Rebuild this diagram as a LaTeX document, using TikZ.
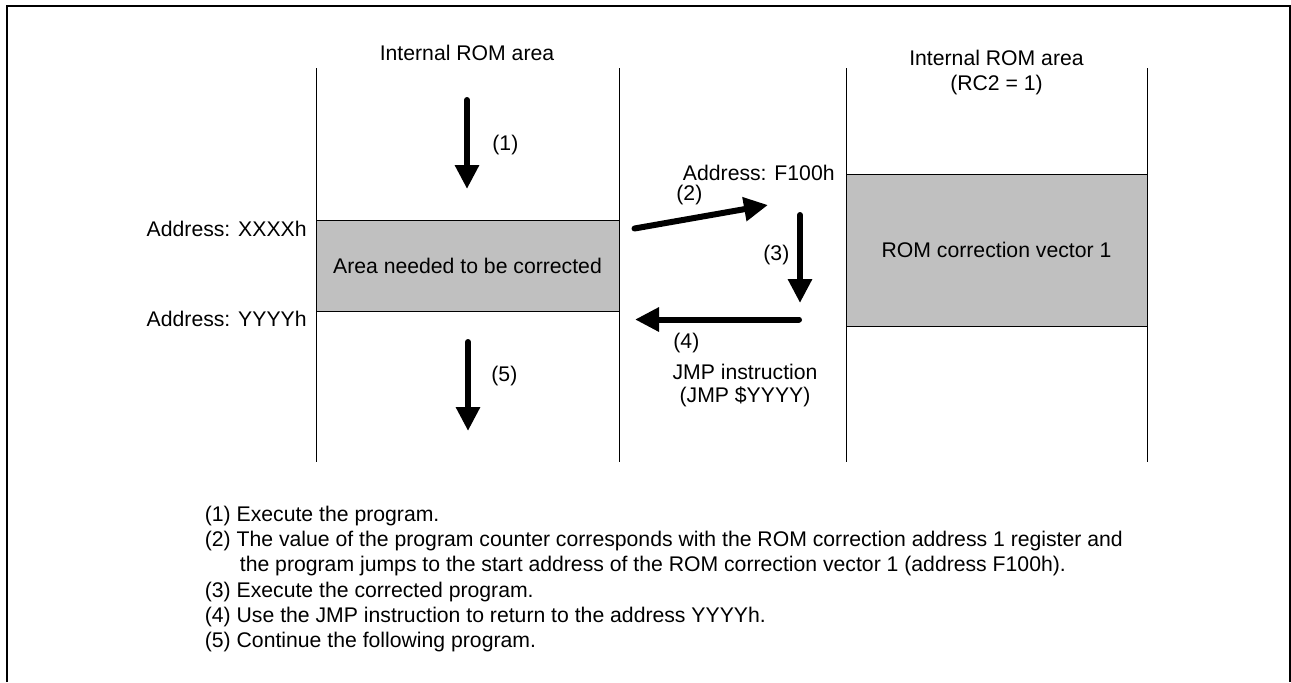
\documentclass[tikz,border=0pt]{standalone}
\usepackage{fontspec}
\setmainfont{Liberation Sans}
\usetikzlibrary{arrows.meta}
\definecolor{areagray}{RGB}{192,192,192}
\begin{document}
\begin{tikzpicture}[x=0.5pt,y=-0.5pt,
  lbl/.style={inner sep=0pt, font=\fontsize{10.6pt}{12.6pt}\selectfont},
  note/.style={inner sep=0pt, anchor=base west, font=\fontsize{10.6pt}{12.6pt}\selectfont},
  colline/.style={line width=0.5pt},
  graybox/.style={draw, line width=0.5pt, fill=areagray, inner sep=0pt,
    font=\fontsize{10.6pt}{12.6pt}\selectfont},
  flow/.style={line width=3pt, line cap=round, -{Triangle[width=11.5pt,length=12pt]}},
  frameline/.style={line width=1pt}]
\useasboundingbox (0,0) rectangle (1291,682);

% outer frame (open at the bottom)
\draw[frameline] (7,682) -- (7,6) -- (1290,6) -- (1290,682);

% memory columns
\draw[colline] (316,68) -- (316,462);
\draw[colline] (619,68) -- (619,462);
\draw[colline] (846,68) -- (846,462);
\draw[colline] (1147,68) -- (1147,462);

% shaded regions
\node[graybox, minimum width=151.5pt, minimum height=45.5pt] (fixarea) at (467.5,265.5) {Area needed to be corrected};
\node[graybox, minimum width=150.5pt, minimum height=76pt] (vector) at (996.5,250) {ROM correction vector 1};

% column headings
\node[lbl, anchor=base] (romA) at (467,60.5) {Internal ROM area};
\node[lbl, anchor=base] (romB) at (996.5,65.5) {Internal ROM area};
\node[lbl, anchor=base] (rc2) at (996.5,90.5) {(RC2 = 1)};

% addresses
\node[lbl, anchor=base east] (addrX) at (307,236.5) {Address: XXXXh};
\node[lbl, anchor=base east] (addrY) at (307,326.5) {Address: YYYYh};
\node[lbl, anchor=base east] (addrF) at (835,180) {Address: F100h};

% step labels
\node[lbl, anchor=base west] (s1) at (492,150.6) {(1)};
\node[lbl, anchor=base west] (s2) at (676,200.6) {(2)};
\node[lbl, anchor=base west] (s3) at (763,260.6) {(3)};
\node[lbl, anchor=base west] (s4) at (673,348.6) {(4)};
\node[lbl, anchor=base west] (s5) at (491,381.6) {(5)};
\node[lbl, anchor=base] (jmp1) at (745,379) {JMP instruction};
\node[lbl, anchor=base] (jmp2) at (745,402.6) {(JMP \$YYYY)};

% flow arrows
\coordinate (a1s) at (467,100);   \coordinate (a1e) at (467,189);
\coordinate (a2s) at (634.5,228.5); \coordinate (a2e) at (768,205);
\coordinate (a3s) at (800,215);   \coordinate (a3e) at (800,303);
\coordinate (a4s) at (799,319.5); \coordinate (a4e) at (635,319.5);
\coordinate (a5s) at (468,342);   \coordinate (a5e) at (468,431);
\draw[flow] (a1s) -- (a1e);
\draw[flow] (a2s) -- (a2e);
\draw[flow] (a3s) -- (a3e);
\draw[flow] (a4s) -- (a4e);
\draw[flow] (a5s) -- (a5e);

% explanatory notes
\node[note] (n1) at (204.5,521) {(1) Execute the program.};
\node[note] (n2) at (204.5,546.3) {(2) The value of the program counter corresponds with the ROM correction address 1 register and};
\node[note] (n2b) at (239.5,571.6) {the program jumps to the start address of the ROM correction vector 1 (address F100h).};
\node[note] (n3) at (204.5,597) {(3) Execute the corrected program.};
\node[note] (n4) at (204.5,622.3) {(4) Use the JMP instruction to return to the address YYYYh.};
\node[note] (n5) at (204.5,647.6) {(5) Continue the following program.};
\end{tikzpicture}
\end{document}
